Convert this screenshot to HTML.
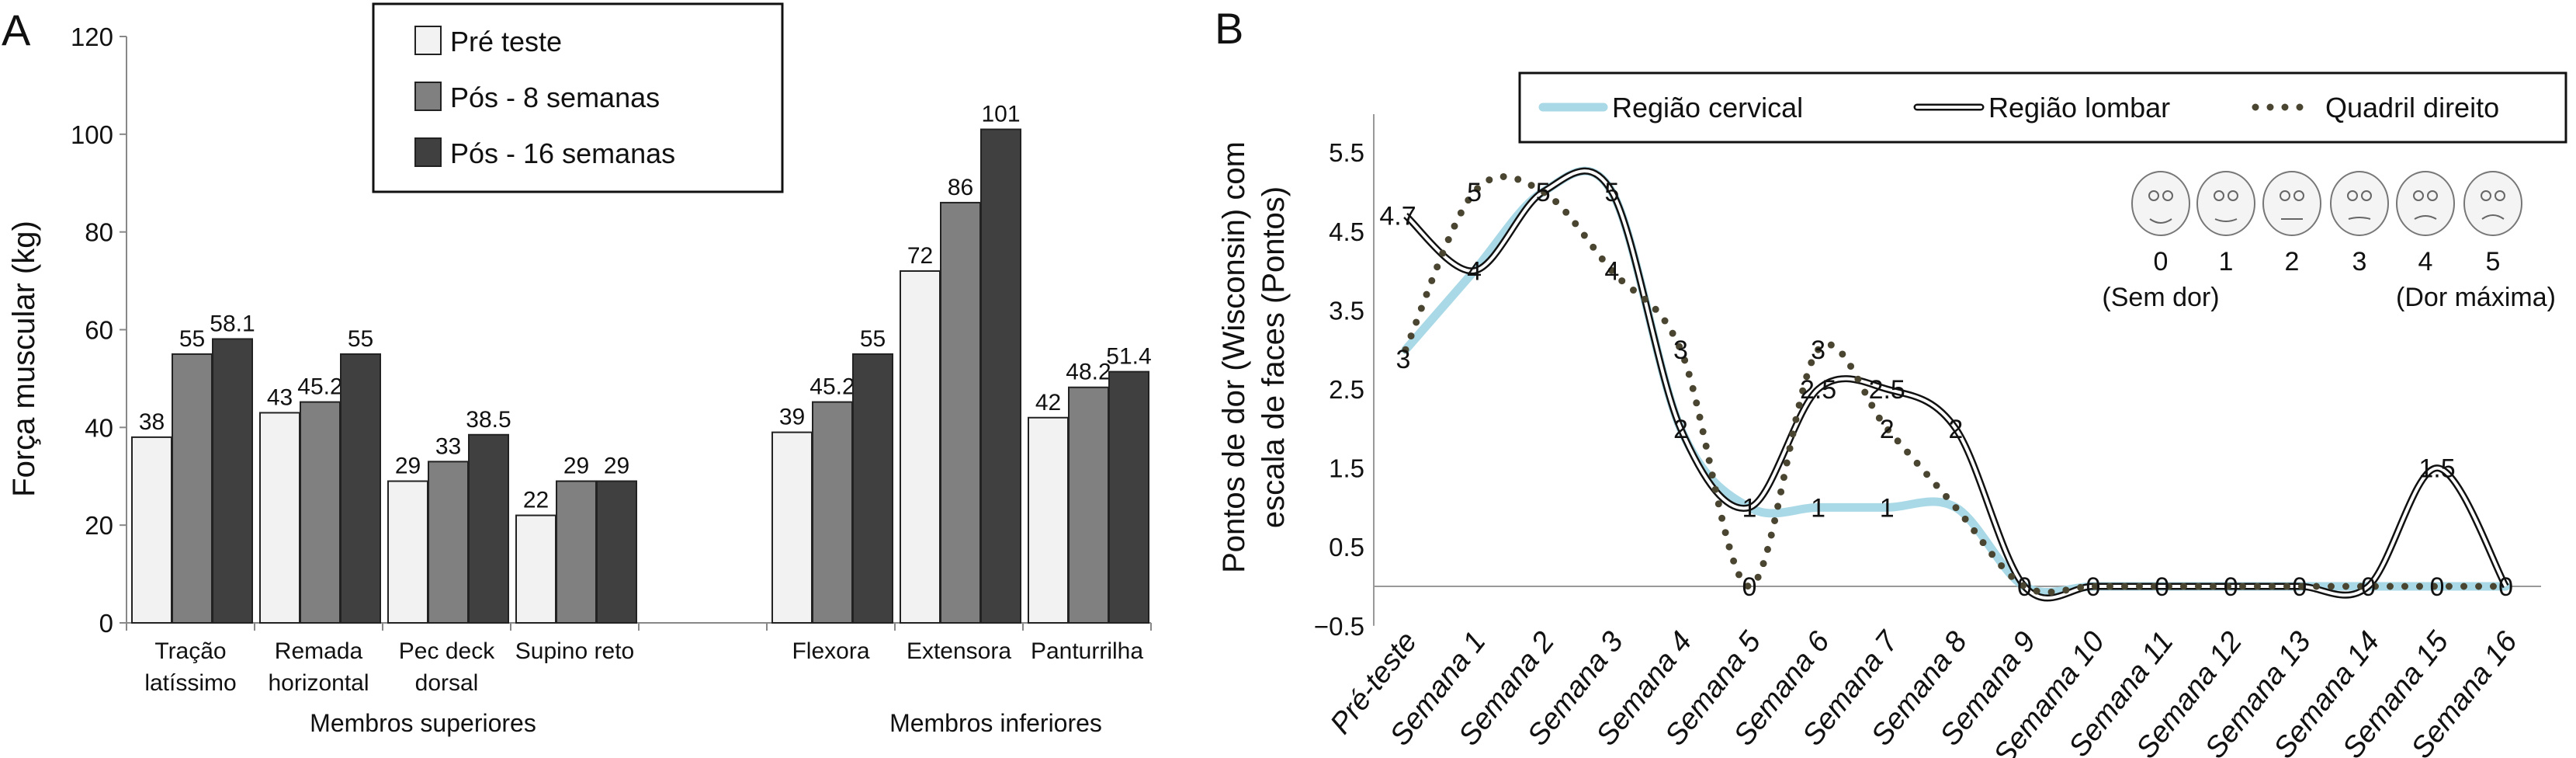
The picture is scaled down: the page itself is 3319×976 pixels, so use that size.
<!DOCTYPE html>
<html><head><meta charset="utf-8">
<style>
html,body{margin:0;padding:0;background:#fff;}
svg{display:block;}
text{font-family:"Liberation Sans Narrow","Liberation Sans",sans-serif;fill:#111;}
.wide{font-family:"Liberation Sans",sans-serif;}
</style></head>
<body>
<svg id="root" width="3319" height="976" viewBox="0 0 3319 976" xmlns="http://www.w3.org/2000/svg">
<text class="wide" x="2" y="58" font-size="56">A</text>
<text class="wide" x="1565" y="56" font-size="56">B</text>
<g id="chartA"></g>
<g id="chartB"></g>
</svg>
<script>
// ---------- Panel A data ----------
const catsA = [["Tração","latíssimo"],["Remada","horizontal"],["Pec deck","dorsal"],["Supino reto"],null,["Flexora"],["Extensora"],["Panturrilha"]];
const preTeste = [38,43,29,22,null,39,72,42];
const pos8 = [55,45.2,33,29,null,45.2,86,48.2];
const pos16 = [58.1,55,38.5,29,null,55,101,51.4];
const ticksA = [0,20,40,60,80,100,120];
const seriesNamesA = ["Pré teste","Pós - 8 semanas","Pós - 16 semanas"];
const groupsA = ["Membros superiores","Membros inferiores"];

// ---------- Panel B data ----------
const weeks = ["Pré-teste","Semana 1","Semana 2","Semana 3","Semana 4","Semana 5","Semana 6","Semana 7","Semana 8","Semana 9","Semama 10","Semana 11","Semana 12","Semana 13","Semana 14","Semana 15","Semana 16"];
const cervical = [3,4,5,5,2,1,1,1,1,0,0,0,0,0,0,0,0];
const lombar = [4.7,4,5,5,2,1,2.5,2.5,2,0,0,0,0,0,0,1.5,0];
const quadril = [3,5,5,4,3,0,3,2,1,0,0,0,0,0,0,0,0];
const ticksB = [-0.5,0.5,1.5,2.5,3.5,4.5,5.5];
const seriesNamesB = ["Região cervical","Região lombar","Quadril direito"];

const NS="http://www.w3.org/2000/svg";
function mk(parent,tag,attrs,txt){const e=document.createElementNS(NS,tag);for(const k in attrs)e.setAttribute(k,attrs[k]);if(txt!==undefined)e.textContent=txt;parent.appendChild(e);return e;}

// ===== Chart A =====
(function(){
const g=document.getElementById('chartA');
const x0=163, slot=165, yZero=802, yTop=47;
const y=v=>yZero-(v-0)/120*(yZero-yTop);
const ax=mk(g,'line',{x1:x0,y1:yTop,x2:x0,y2:yZero,stroke:'#888','stroke-width':2});


ticksA.forEach(t=>{
  const tl=mk(g,'line',{x1:x0-9,y1:y(t),x2:x0,y2:y(t),stroke:'#888','stroke-width':2});
  
  
  const tx=mk(g,'text',{x:x0-17,y:y(t)+12,'text-anchor':'end','font-size':33},String(t));
  
  
});
const xa=mk(g,'line',{x1:x0,y1:yZero,x2:x0+slot*catsA.length,y2:yZero,stroke:'#888','stroke-width':2});


for(let i=0;i<=catsA.length;i++){
  const t=mk(g,'line',{x1:x0+i*slot,y1:yZero,x2:x0+i*slot,y2:yZero+10,stroke:'#888','stroke-width':2});
  
  
}
const yt=mk(g,'text',{class:'wide',transform:'translate(44,462) rotate(-90)','text-anchor':'middle','font-size':40},'Força muscular (kg)');


const series=[preTeste,pos8,pos16], fills=['#f2f2f2','#808080','#404040'];
const bw=51;
catsA.forEach((c,i)=>{
  if(!c) return;
  series.forEach((s,j)=>{
    const v=s[i]; const bx=x0+i*slot+7+j*(bw+1);
    const r=mk(g,'rect',{x:bx,y:y(v),width:bw,height:yZero-y(v),fill:fills[j],stroke:'#222','stroke-width':2});
    
    
    const l=mk(g,'text',{x:bx+bw/2,y:y(v)-10,'text-anchor':'middle','font-size':30},String(v));
    
    
  });
  c.forEach((line,k)=>{
    const tx=mk(g,'text',{x:x0+i*slot+slot/2,y:848+k*41,'text-anchor':'middle','font-size':30},line);
    
    
  });
});
[[545,groupsA[0]],[1283,groupsA[1]]].forEach(([cx,t])=>{
  const e=mk(g,'text',{x:cx,y:942,'text-anchor':'middle','font-size':32},t);
  
  
});
const lg=mk(g,'g',{});


mk(lg,'rect',{x:481,y:5,width:527,height:242,fill:'#fff',stroke:'#111','stroke-width':3});
seriesNamesA.forEach((n,j)=>{
  const yy=34+j*72;
  const sw=mk(lg,'rect',{x:535,y:yy,width:33,height:36,fill:fills[j],stroke:'#222','stroke-width':2});
  
  
  const t=mk(lg,'text',{x:580,y:yy+32,'font-size':36},n);
  
  
});
})();

// ===== Chart B =====
(function(){
const g=document.getElementById('chartB');
const xA=1770, x0=1811, step=88.6, y0=755, unit=101.6;
const x=i=>x0+i*step;
const y=v=>y0-v*unit;
const ax=mk(g,'line',{x1:xA,y1:147,x2:xA,y2:y(-0.5),stroke:'#999','stroke-width':2});


const zl=mk(g,'line',{x1:xA,y1:y(0),x2:3274,y2:y(0),stroke:'#999','stroke-width':2});


ticksB.forEach(t=>{
  const tx=mk(g,'text',{x:1758,y:y(t)+12,'text-anchor':'end','font-size':33},(t<0?'\u2212':'')+Math.abs(t));
  
  
});
weeks.forEach((w,i)=>{
  const tx=mk(g,'text',{transform:`translate(${x(i)+16},${826}) rotate(-52)`,'text-anchor':'end','font-size':38,'font-style':'italic'},w);
  
  
});
const t1=mk(g,'text',{class:'wide',transform:'translate(1603,460) rotate(-90)','text-anchor':'middle','font-size':40},'Pontos de dor (Wisconsin) com');


const t2=mk(g,'text',{class:'wide',transform:'translate(1654,460) rotate(-90)','text-anchor':'middle','font-size':40},'escala de faces (Pontos)');



function smooth(vals){
  const p=vals.map((v,i)=>[x(i),y(v)]);
  let d=`M${p[0][0]},${p[0][1]}`;
  for(let i=0;i<p.length-1;i++){
    const a=p[Math.max(0,i-1)],b=p[i],c=p[i+1],e=p[Math.min(p.length-1,i+2)];
    const c1=[b[0]+(c[0]-a[0])/6,b[1]+(c[1]-a[1])/6];
    const c2=[c[0]-(e[0]-b[0])/6,c[1]-(e[1]-b[1])/6];
    d+=` C${c1[0]},${c1[1]} ${c2[0]},${c2[1]} ${c[0]},${c[1]}`;
  }
  return d;
}
const pc=mk(g,'path',{d:smooth(cervical),fill:'none',stroke:'#a9d9e6','stroke-width':11,'stroke-linecap':'round'});


const pl=mk(g,'path',{d:smooth(lombar),fill:'none',stroke:'#111','stroke-width':9});


const pl2=mk(g,'path',{d:smooth(lombar),fill:'none',stroke:'#fff','stroke-width':4});


const pq=mk(g,'path',{d:smooth(quadril),fill:'none',stroke:'#4a4530','stroke-width':9,'stroke-linecap':'round','stroke-dasharray':'0 19'});



function lab(i,v,txt,dx,dy){
  const t=mk(g,'text',{x:x(i)+dx,y:y(v)+dy+12,'text-anchor':'middle','font-size':34},txt);
  
  
}
lombar.forEach((v,i)=>lab(i,v,String(v),i===0?-10:0,0));
lab(0,cervical[0],String(cervical[0]),-3,12);
[6,7].forEach(i=>lab(i,cervical[i],'1',0,0));
[1,3,4,6,7].forEach(i=>lab(i,quadril[i],String(quadril[i]),0,0));
lab(5,quadril[5],'0',0,0);
lab(15,quadril[15],'0',0,0);

const lg=mk(g,'g',{});


mk(lg,'rect',{x:1958,y:94,width:1348,height:89,fill:'#fff',stroke:'#111','stroke-width':3});
const ly=138;
mk(lg,'line',{x1:1988,y1:ly,x2:2066,y2:ly,stroke:'#a9d9e6','stroke-width':11,'stroke-linecap':'round'});
mk(lg,'line',{x1:2470,y1:ly,x2:2552,y2:ly,stroke:'#111','stroke-width':9,'stroke-linecap':'round'});
mk(lg,'line',{x1:2470,y1:ly,x2:2552,y2:ly,stroke:'#fff','stroke-width':4,'stroke-linecap':'round'});
mk(lg,'line',{x1:2906,y1:ly,x2:2982,y2:ly,stroke:'#4a4530','stroke-width':9,'stroke-linecap':'round','stroke-dasharray':'0 19'});
[[2077,0],[2562,1],[2996,2]].forEach(([lx,j])=>{
  const t=mk(lg,'text',{x:lx,y:ly+13,'font-size':36},seriesNamesB[j]);
  
  
});

const fg=mk(g,'g',{});


const fx=[2784,2868,2953,3040,3125,3212];
fx.forEach((cx,k)=>{
  mk(fg,'ellipse',{cx:cx,cy:262,rx:37,ry:41,fill:'#f4f4f4',stroke:'#777','stroke-width':2});
  mk(fg,'circle',{cx:cx-9,cy:252,r:6,fill:'none',stroke:'#666','stroke-width':2});
  mk(fg,'circle',{cx:cx+9,cy:252,r:6,fill:'none',stroke:'#666','stroke-width':2});
  const curve=[10,6,0,-4,-8,-10][k];
  mk(fg,'path',{d:`M${cx-14},${282} Q${cx},${282+curve} ${cx+14},${282}`,fill:'none',stroke:'#666','stroke-width':2});
  const n=mk(fg,'text',{x:cx,y:348,'text-anchor':'middle','font-size':34},String(k));
  
  
});
const s1=mk(fg,'text',{x:2784,y:394,'text-anchor':'middle','font-size':34},'(Sem dor)');


const s2=mk(fg,'text',{x:3190,y:394,'text-anchor':'middle','font-size':34},'(Dor máxima)');


})();
</script>
</body></html>
